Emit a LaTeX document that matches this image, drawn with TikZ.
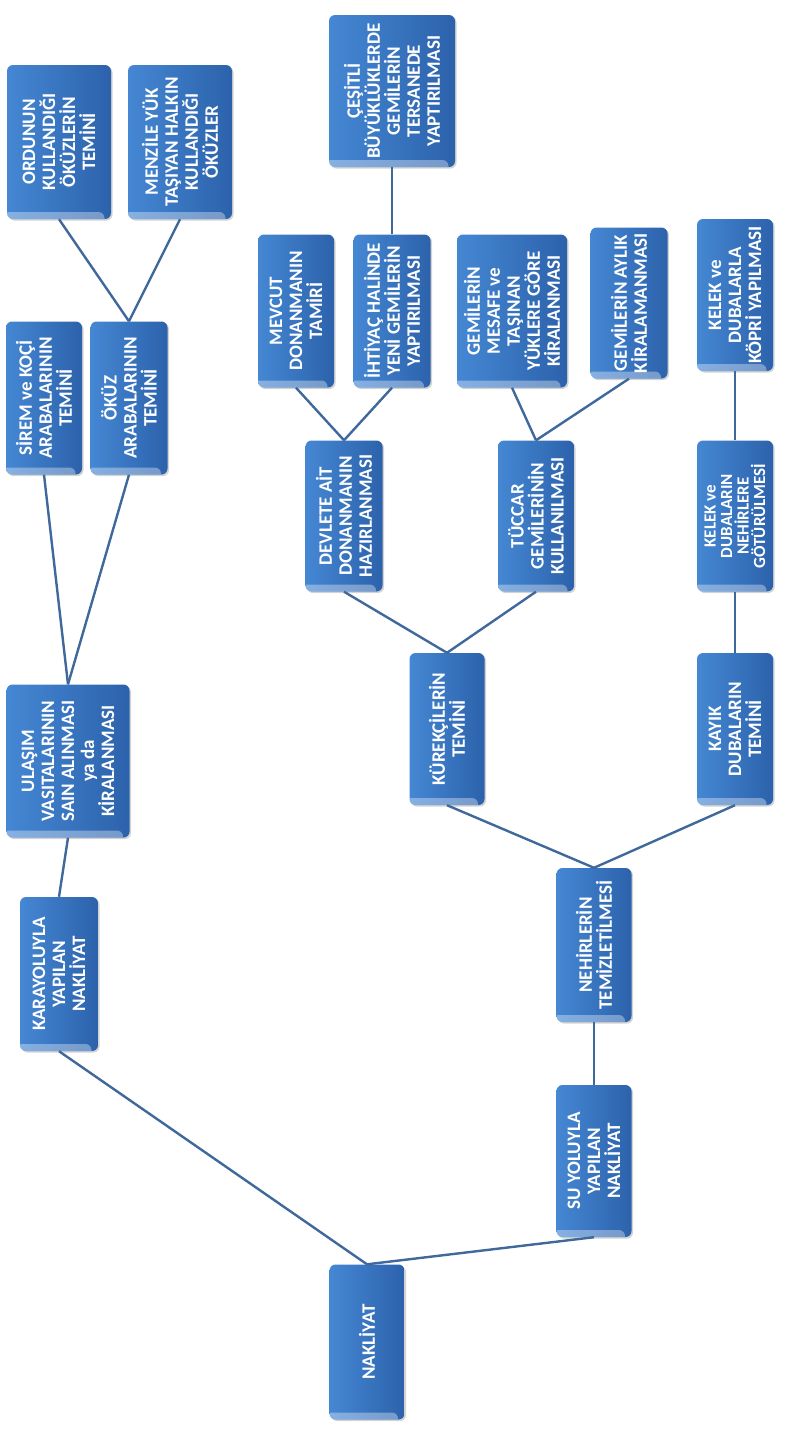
\documentclass[tikz,border=0pt]{standalone}
\usepackage{fontspec}
\setmainfont{Carlito}
\usepackage{tikz}
\usetikzlibrary{shadows}

\definecolor{kutuacik}{HTML}{4587D3}
\definecolor{kutukoyu}{HTML}{2C62AB}
\definecolor{cizgi}{HTML}{3F689B}

\tikzset{
  kutu/.style={rotate=90, rounded corners=6pt, inner sep=0pt, align=center,
    text=white, font=\bfseries\fontsize{19}{20}\selectfont,
    left color=kutuacik, right color=kutukoyu,
    drop shadow={shadow xshift=1.5pt, shadow yshift=-1.5pt, opacity=0.35},
    path picture={\fill[white,opacity=0.35]
      ([xshift=7pt,yshift=4pt]path picture bounding box.south west) rectangle
      ([xshift=-7pt,yshift=6.5pt]path picture bounding box.south east);}},
  bag/.style={draw=cizgi, line width=2.4pt}
}

\begin{document}
\begin{tikzpicture}[x=1pt,y=-1pt]
\useasboundingbox (0,0) rectangle (794,1454);

% root and the two ways
\node[kutu, minimum width=155, minimum height=75] (nakliyat) at (367,1342) {NAKLİYAT};
\node[kutu, minimum width=154, minimum height=78] (karayolu) at (59,974) {KARAYOLUYLA\\YAPILAN\\NAKLİYAT};
\node[kutu, minimum width=152, minimum height=75] (suyolu) at (594,1161) {SU YOLUYLA\\YAPILAN\\NAKLİYAT};

% road branch
\node[kutu, minimum width=153, minimum height=123] (ulasim) at (68,761) {ULAŞIM\\VASITALARININ\\SAIN ALINMASI\\ya da\\KİRALANMASI};
\node[kutu, minimum width=153, minimum height=76] (sirem) at (44,398) {SİREM ve KOÇİ\\ARABALARININ\\TEMİNİ};
\node[kutu, minimum width=153, minimum height=77] (okuz) at (129,398) {ÖKÜZ\\ARABALARININ\\TEMİNİ};
\node[kutu, minimum width=154, minimum height=104] (ordu) at (59,142) {ORDUNUN\\KULLANDIĞI\\ÖKÜZLERİN\\TEMİNİ};
\node[kutu, minimum width=154, minimum height=104] (menzil) at (180,142) {MENZİLE YÜK\\TAŞIYAN HALKIN\\KULLANDIĞI\\ÖKÜZLER};

% water branch
\node[kutu, minimum width=154, minimum height=75] (nehir) at (594,945) {NEHİRLERİN\\TEMİZLETİLMESİ};
\node[kutu, minimum width=152, minimum height=75] (kurekci) at (447,729) {KÜREKÇİLERİN\\TEMİNİ};
\node[kutu, minimum width=152, minimum height=76] (kayik) at (735,729) {KAYIK\\DUBALARIN\\TEMİNİ};
\node[kutu, minimum width=151, minimum height=77] (devlet) at (344,516) {DEVLETE AİT\\DONANMANIN\\HAZIRLANMASI};
\node[kutu, minimum width=151, minimum height=76] (tuccar) at (536,516) {TÜCCAR\\GEMİLERİNİN\\KULLANILMASI};
\node[kutu, minimum width=151, minimum height=76, font=\bfseries\fontsize{17}{16.5}\selectfont] (kelek) at (735,516) {KELEK ve\\DUBALARIN\\NEHİRLERE\\GÖTÜRÜLMESİ};
\node[kutu, minimum width=153, minimum height=76] (mevcut) at (296,311) {MEVCUT\\DONANMANIN\\TAMİRİ};
\node[kutu, minimum width=153, minimum height=77] (ihtiyac) at (392,311) {İHTİYAÇ HALİNDE\\YENİ GEMİLERİN\\YAPTIRILMASI};
\node[kutu, minimum width=153, minimum height=110] (mesafe) at (512,311) {GEMİLERİN\\MESAFE ve\\TAŞINAN\\YÜKLERE GÖRE\\KİRALANMASI};
\node[kutu, minimum width=151, minimum height=77] (aylik) at (629,303) {GEMİLERİN AYLIK\\KİRALAMANMASI};
\node[kutu, minimum width=152, minimum height=76] (kopru) at (735,295) {KELEK ve\\DUBALARLA\\KÖPRİ YAPILMASI};
\node[kutu, minimum width=152, minimum height=126] (tersane) at (392,91) {ÇEŞİTLİ\\BÜYÜKLÜKLERDE\\GEMİLERİN\\TERSANEDE\\YAPTIRILMASI};

% connectors (east = top of page, west = bottom of page)
\begin{scope}[on background layer/.try]
\draw[bag] (nakliyat.east) -- (karayolu.west);
\draw[bag] (nakliyat.east) -- (suyolu.west);
\draw[bag] (karayolu.east) -- (ulasim.west);
\draw[bag] (ulasim.east) -- (sirem.west);
\draw[bag] (ulasim.east) -- (okuz.west);
\draw[bag] (okuz.east) -- (ordu.west);
\draw[bag] (okuz.east) -- (menzil.west);
\draw[bag] (suyolu.east) -- (nehir.west);
\draw[bag] (nehir.east) -- (kurekci.west);
\draw[bag] (nehir.east) -- (kayik.west);
\draw[bag] (kurekci.east) -- (devlet.west);
\draw[bag] (kurekci.east) -- (tuccar.west);
\draw[bag] (kayik.east) -- (kelek.west);
\draw[bag] (devlet.east) -- (mevcut.west);
\draw[bag] (devlet.east) -- (ihtiyac.west);
\draw[bag] (tuccar.east) -- (mesafe.west);
\draw[bag] (tuccar.east) -- (aylik.west);
\draw[bag] (kelek.east) -- (kopru.west);
\draw[bag] (ihtiyac.east) -- (tersane.west);
\end{scope}
\end{tikzpicture}
\end{document}
